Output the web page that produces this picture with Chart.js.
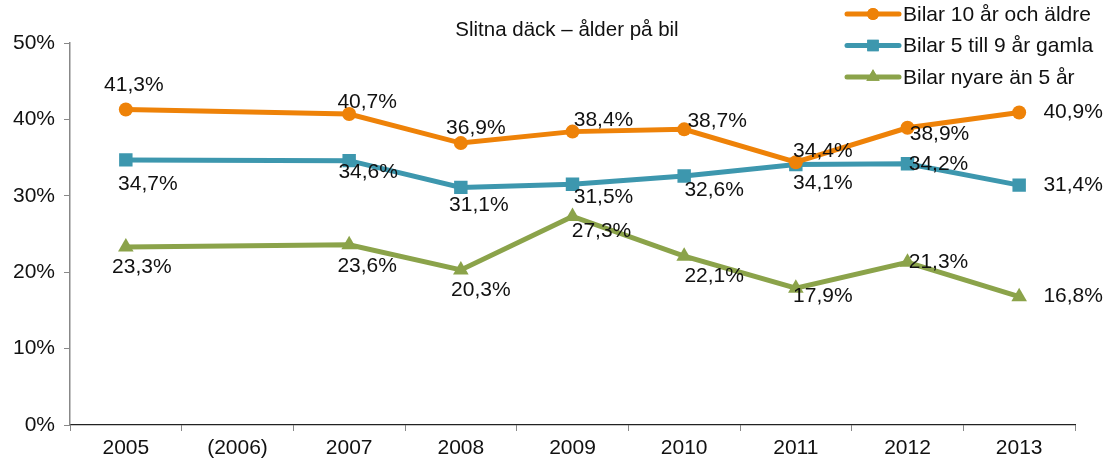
<!DOCTYPE html>
<html>
<head>
<meta charset="utf-8">
<script src="https://cdn.jsdelivr.net/npm/chart.js@4.4.0/dist/chart.umd.min.js"></script>
<style>
  html, body { margin: 0; padding: 0; background: #fff; }
  #wrap { width: 1105px; height: 463px; position: relative; }
</style>
</head>
<body>
<div id="wrap"><canvas id="chart"></canvas></div>
<script>
// Slitna däck – ålder på bil
const years = ['2005', '(2006)', '2007', '2008', '2009', '2010', '2011', '2012', '2013'];

const series = [
  {
    label: 'Bilar 10 år och äldre',
    color: '#EE8208',
    style: 'circle', radius: 7,
    data: [41.3, null, 40.7, 36.9, 38.4, 38.7, 34.4, 38.9, 40.9],
    // label offsets [dx, dy] from the point
    offs: [[8, -24], null, [18, -12], [15, -15], [31, -11], [33, -8], [27, -11], [32, 6], [54, 0]],
  },
  {
    label: 'Bilar 5 till 9 år gamla',
    color: '#3D97AE',
    style: 'rect', radius: 9.5,
    data: [34.7, null, 34.6, 31.1, 31.5, 32.6, 34.1, 34.2, 31.4],
    offs: [[22, 24], null, [19, 12], [18, 18], [31, 13], [30, 14], [27, 19], [31, 0], [54, 0]],
  },
  {
    label: 'Bilar nyare än 5 år',
    color: '#8BA34A',
    style: 'triangle', radius: 9,
    data: [23.3, null, 23.6, 20.3, 27.3, 22.1, 17.9, 21.3, 16.8],
    offs: [[16, 20], null, [18, 22], [20, 20], [29, 15], [30, 20], [27, 8], [31, 0], [54, 0]],
  },
];

const FONT = '"Liberation Sans", Arial, Helvetica, sans-serif';

const fmt = v => v.toFixed(1).replace('.', ',') + '%';

// data labels, title and legend drawn on the canvas
const extras = {
  id: 'extras',
  afterDatasetsDraw(chart) {
    const ctx = chart.ctx;
    ctx.save();
    ctx.fillStyle = '#111';
    ctx.font = `21px ${FONT}`;
    ctx.textAlign = 'center';
    ctx.textBaseline = 'middle';
    series.forEach((s, di) => {
      const meta = chart.getDatasetMeta(di);
      s.data.forEach((v, i) => {
        if (v == null) return;
        const p = meta.data[i];
        const [dx, dy] = s.offs[i];
        ctx.fillText(fmt(v), p.x + dx, p.y + dy);
      });
    });

    // title
    ctx.font = `20.5px ${FONT}`;
    ctx.fillText('Slitna däck – ålder på bil', 567, 30);

    // legend
    ctx.font = `21px ${FONT}`;
    ctx.textAlign = 'left';
    series.forEach((s, i) => {
      const y = 14 + i * 31.5;
      ctx.strokeStyle = s.color;
      ctx.lineWidth = 5;
      ctx.lineCap = 'round';
      ctx.beginPath();
      ctx.moveTo(847, y);
      ctx.lineTo(899, y);
      ctx.stroke();
      ctx.fillStyle = s.color;
      Chart.helpers.drawPoint(ctx, { pointStyle: s.style, radius: s.radius * 0.85, rotation: 0, borderWidth: 0 }, 873, y);
      ctx.fill();
      ctx.fillStyle = '#111';
      ctx.fillText(s.label, 903, y + 1);
    });
    ctx.restore();
  }
};

new Chart(document.getElementById('chart'), {
  type: 'line',
  data: {
    labels: years,
    datasets: series.map(s => ({
      label: s.label,
      data: s.data,
      borderColor: s.color,
      backgroundColor: s.color,
      borderWidth: 5,
      pointStyle: s.style,
      pointRadius: s.radius,
      pointBackgroundColor: s.color,
      pointBorderWidth: 0,
      spanGaps: true,
      tension: 0,
    }))
  },
  options: {
    responsive: true,
    maintainAspectRatio: false,
    animation: false,
    layout: { padding: { top: 43, right: 30, left: 0, bottom: 0 } },
    plugins: {
      legend: { display: false },
      title: { display: false },
      tooltip: { enabled: false },
    },
    scales: {
      x: {
        offset: true,
        grid: { offset: true, drawOnChartArea: false, drawTicks: true, tickLength: 6, color: '#888' },
        border: { display: true, color: '#222', width: 1.2 },
        ticks: { color: '#111', font: { family: FONT, size: 21 }, padding: 5, maxRotation: 0 },
        afterFit: s => { s.height = 38; },
      },
      y: {
        min: 0, max: 50,
        ticks: { stepSize: 10, color: '#111', font: { family: FONT, size: 21 }, padding: 9, callback: v => v + '%' },
        grid: { drawOnChartArea: false, drawTicks: true, tickLength: 6, color: '#888' },
        border: { display: true, color: '#888', width: 1.5 },
        afterFit: s => { s.width = 70; },
      }
    }
  },
  plugins: [extras]
});
</script>
</body>
</html>
